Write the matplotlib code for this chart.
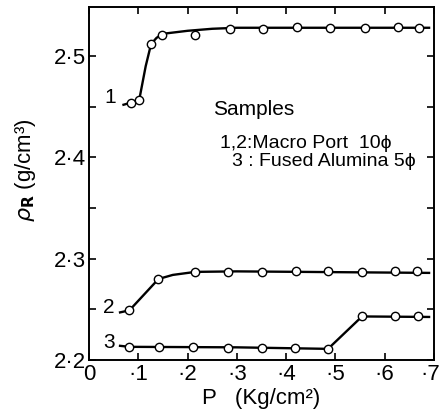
import matplotlib
matplotlib.use("Agg")
import matplotlib.pyplot as plt
import matplotlib.transforms as mtransforms
from matplotlib.ticker import FixedLocator

plt.rcParams['font.family'] = ['Liberation Sans', 'DejaVu Sans']

# measured points: pressure P (kg/cm2) and apparent density rho (g/cm3)
p1 = [0.085, 0.102, 0.126, 0.149, 0.216, 0.287, 0.354, 0.422, 0.489, 0.561, 0.626, 0.670]
rho1 = [2.454, 2.457, 2.512, 2.521, 2.521, 2.527, 2.527, 2.529, 2.528, 2.528, 2.529, 2.528]

p2 = [0.082, 0.141, 0.216, 0.283, 0.352, 0.420, 0.485, 0.554, 0.621, 0.665]
rho2 = [2.249, 2.280, 2.287, 2.287, 2.287, 2.288, 2.288, 2.287, 2.2876, 2.288]

p3 = [0.082, 0.142, 0.210, 0.282, 0.350, 0.417, 0.485, 0.554, 0.621, 0.667]
rho3 = [2.213, 2.213, 2.213, 2.212, 2.212, 2.2115, 2.211, 2.243, 2.243, 2.2434]

# hand-drawn curves through the points
fit1_p = [0.070, 0.085, 0.102, 0.115, 0.126, 0.137, 0.149, 0.20, 0.25, 0.30, 0.69]
fit1_rho = [2.452, 2.454, 2.457, 2.490, 2.512, 2.518, 2.522, 2.525, 2.527, 2.528, 2.528]
fit2_p = [0.063, 0.082, 0.141, 0.17, 0.216, 0.30, 0.69]
fit2_rho = [2.247, 2.249, 2.280, 2.284, 2.287, 2.2875, 2.286]
fit3_p = [0.063, 0.082, 0.30, 0.485, 0.554, 0.69]
fit3_rho = [2.214, 2.213, 2.2125, 2.211, 2.243, 2.2425]

xticks = [0, 0.1, 0.2, 0.3, 0.4, 0.5, 0.6, 0.7]
xticklabels = ['0', '·1', '·2', '·3', '·4', '·5', '·6', '·7']
yticks = [2.2, 2.3, 2.4, 2.5]
yticklabels = ['2·2', '2·3', '2·4', '2·5']
yminor = [2.25, 2.35, 2.45]

fig = plt.figure(figsize=(4.41, 4.15), dpi=100)
ax = fig.add_axes([89/441, 55/415, 345/441, 353/415])

for fp, fr in [(fit1_p, fit1_rho), (fit2_p, fit2_rho), (fit3_p, fit3_rho)]:
    ax.plot(fp, fr, color='black', lw=1.7, zorder=2)
for p, r in [(p1, rho1), (p2, rho2), (p3, rho3)]:
    ax.plot(p, r, 'o', color='black', mfc='white', ms=6, mew=1.0, zorder=3)

ax.set_xlim(0, 0.7)
ax.set_ylim(2.2, 2.5485)
ax.set_xticks(xticks)
ax.set_xticklabels(xticklabels)
ax.set_yticks(yticks)
ax.set_yticklabels(yticklabels)
ax.yaxis.set_minor_locator(FixedLocator(yminor))
ax.tick_params(which='both', direction='in', top=True, right=True,
               length=5, width=1.2, labelsize=16, pad=2)
ax.tick_params(axis='x', pad=3)
for s in ax.spines.values():
    s.set_linewidth(1.4)

# keep the last x label inside the figure
last = ax.get_xticklabels()[-1]
last.set_transform(last.get_transform() +
                   mtransforms.ScaledTranslation(-4/100, 0, fig.dpi_scale_trans))

ax.text(0.043, 2.459, '1', fontsize=15, ha='center', va='center')
ax.text(0.041, 2.252, '2', fontsize=15, ha='center', va='center')
ax.text(0.041, 2.217, '3', fontsize=15, ha='center', va='center')
ax.text(0.2515, 2.447, 'Samples', fontsize=15, va='center')
ax.text(0.266, 2.414, '1,2:Macro Port  10ϕ', fontsize=14, va='center')
ax.text(0.290, 2.396, '3 : Fused Alumina 5ϕ', fontsize=14, va='center')

ax.set_xlabel('P   (Kg/cm²)', fontsize=16, labelpad=2)
fig.text(25/441, 1 - 170/415, r'$\rho_{\mathbf{R}}$ (g/cm³)', fontsize=16,
         rotation=90, ha='center', va='center')

fig.savefig('out.png', dpi=100)
